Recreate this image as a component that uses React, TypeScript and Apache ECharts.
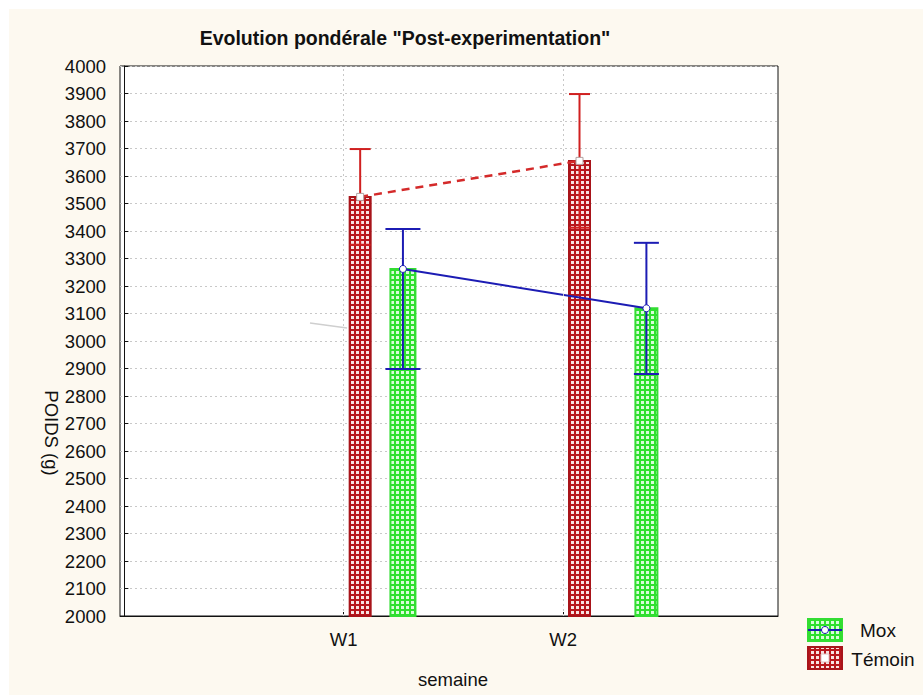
import React, { useEffect, useRef } from "react";
import * as echarts from "echarts";

// ---- data ----
const categories = ["W1", "W2"];
const temoinMean = [3524, 3655];
const temoinHigh = [3698, 3898];
const temoinLow = [3350, 3412];
const moxMean = [3262, 3119];
const moxHigh = [3407, 3357];
const moxLow = [2898, 2880];
const yMin = 2000;
const yMax = 4000;
const yInterval = 100;

// ---- layout (category centre + shift, in axis units) ----
const catPos = [1, 2];
const temoinShift = [0.075, 0.075];
const moxShift = [0.27, 0.38];
const moxBarW = [25, 22];
const temoinBarW = [21, 21];
const moxCapW = [35, 25];
const temoinCapW = [21, 21];

const FONT = "'Liberation Sans', Arial, sans-serif";

function makePattern(bg: string, cell: string) {
  const c = document.createElement("canvas");
  c.width = 5;
  c.height = 5;
  const ctx = c.getContext("2d")!;
  ctx.fillStyle = bg;
  ctx.fillRect(0, 0, 5, 5);
  ctx.fillStyle = cell;
  ctx.fillRect(1, 1, 3, 3);
  return { image: c.toDataURL(), repeat: "repeat", imageWidth: 5, imageHeight: 5 } as any;
}

export default function App() {
  const ref = useRef<HTMLDivElement>(null);
  useEffect(() => {
    if (!ref.current) return;
    const chart = echarts.init(ref.current, undefined, { renderer: "svg" });
    const redPat = makePattern("#b8161c", "#f7e2e2");
    const greenPat = makePattern("#2ee02e", "#d8fcd8");

    const temoinX = catPos.map((c, i) => c + temoinShift[i]);
    const moxX = catPos.map((c, i) => c + moxShift[i]);

    const barSeries = (xs: number[], vals: number[], widths: number[], fill: any, stroke: string) => ({
      type: "custom",
      z: 2,
      data: xs.map((x, i) => [x, vals[i]]),
      renderItem: (params: any, api: any) => {
        const x = api.value(0);
        const v = api.value(1);
        const top = api.coord([x, v]);
        const bot = api.coord([x, yMin]);
        const w = widths[params.dataIndex];
        return {
          type: "rect",
          shape: { x: top[0] - w / 2, y: top[1], width: w, height: bot[1] - top[1] },
          style: { fill, stroke, lineWidth: 2 },
        };
      },
    });

    const errSeries = (xs: number[], lo: number[], hi: number[], caps: number[], color: string) => ({
      type: "custom",
      z: 3,
      data: xs.map((x, i) => [x, lo[i], hi[i]]),
      renderItem: (params: any, api: any) => {
        const x = api.value(0);
        const a = api.coord([x, api.value(1)]);
        const b = api.coord([x, api.value(2)]);
        const hw = caps[params.dataIndex] / 2;
        const st = { stroke: color, lineWidth: 2 };
        return {
          type: "group",
          children: [
            { type: "line", shape: { x1: a[0], y1: a[1], x2: b[0], y2: b[1] }, style: st },
            { type: "line", shape: { x1: a[0] - hw, y1: a[1], x2: a[0] + hw, y2: a[1] }, style: st },
            { type: "line", shape: { x1: b[0] - hw, y1: b[1], x2: b[0] + hw, y2: b[1] }, style: st },
          ],
        };
      },
    });

    const option: any = {
      animation: false,
      grid: {
        left: 120,
        top: 66,
        right: 145,
        bottom: 79,
        show: true,
        backgroundColor: "#ffffff",
        borderColor: "#111",
        borderWidth: 1,
      },
      xAxis: {
        type: "value",
        min: -0.02,
        max: 2.98,
        axisLine: { lineStyle: { color: "#111", width: 1 } },
        axisTick: { customValues: catPos, inside: true, length: 4, lineStyle: { color: "#111" } },
        axisLabel: {
          customValues: catPos,
          formatter: (v: number) => {
            const i = catPos.indexOf(Math.round(v));
            return i >= 0 ? categories[i] : "";
          },
          fontFamily: FONT,
          fontSize: 18.5,
          color: "#111",
          margin: 14,
        },
        splitLine: { show: false },
      },
      yAxis: {
        type: "value",
        min: yMin,
        max: yMax,
        interval: yInterval,
        axisLine: { show: true, lineStyle: { color: "#111", width: 1 } },
        axisTick: { show: true, inside: true, length: 4, lineStyle: { color: "#111" } },
        axisLabel: {
          fontFamily: FONT,
          fontSize: 18.5,
          color: "#111",
          margin: 14,
          formatter: (v: number) => String(v),
        },
        splitLine: { show: true, lineStyle: { color: "#c8c8c8", type: [2, 3], width: 1 } },
      },
      series: [
        {
          type: "line",
          data: [],
          markLine: {
            silent: true,
            symbol: "none",
            label: { show: false },
            lineStyle: { color: "#c8c8c8", type: [2, 3], width: 1 },
            data: catPos.map((c) => ({ xAxis: c })),
          },
        },
        barSeries(temoinX, temoinMean, temoinBarW, redPat, "#a8141a"),
        barSeries(moxX, moxMean, moxBarW, greenPat, "#33dd33"),
        errSeries(temoinX, temoinLow, temoinHigh, temoinCapW, "#d02020"),
        errSeries(moxX, moxLow, moxHigh, moxCapW, "#1c1cb4"),
        {
          type: "line",
          z: 4,
          data: temoinX.map((x, i) => [x, temoinMean[i]]),
          lineStyle: { color: "#d42a2a", width: 2.5, type: [8, 6] },
          symbol: "rect",
          symbolSize: 7,
          itemStyle: { color: "#ffffff", borderColor: "#b0a0a0", borderWidth: 1 },
        },
        {
          type: "line",
          z: 4,
          data: moxX.map((x, i) => [x, moxMean[i]]),
          lineStyle: { color: "#1c1cb4", width: 2 },
          symbol: "circle",
          symbolSize: 7,
          itemStyle: { color: "#ffffff", borderColor: "#1c1cb4", borderWidth: 1 },
        },
      ],
      graphic: [
        {
          type: "text",
          x: 405,
          y: 38,
          style: {
            text: 'Evolution pondérale "Post-experimentation"',
            font: `bold 19.5px ${FONT}`,
            fill: "#111",
            textAlign: "center",
            textVerticalAlign: "middle",
          },
        },
        {
          type: "text",
          x: 453,
          y: 679,
          style: {
            text: "semaine",
            font: `18.5px ${FONT}`,
            fill: "#111",
            textAlign: "center",
            textVerticalAlign: "middle",
          },
        },
        {
          type: "text",
          x: 51,
          y: 433,
          rotation: -Math.PI / 2,
          style: {
            text: "POIDS (g)",
            font: `18.5px ${FONT}`,
            fill: "#111",
            textAlign: "center",
            textVerticalAlign: "middle",
          },
        },
        {
          type: "line",
          shape: { x1: 310, y1: 323, x2: 347, y2: 328 },
          style: { stroke: "#cfcfcf", lineWidth: 1.5 },
        },
        // legend
        {
          type: "rect",
          shape: { x: 808, y: 619, width: 34, height: 22 },
          style: { fill: greenPat, stroke: "#33dd33", lineWidth: 2 },
        },
        {
          type: "line",
          shape: { x1: 808, y1: 630, x2: 842, y2: 630 },
          style: { stroke: "#1c1cb4", lineWidth: 2 },
        },
        {
          type: "circle",
          shape: { cx: 825, cy: 630, r: 3.5 },
          style: { fill: "#fff", stroke: "#1c1cb4", lineWidth: 1 },
        },
        {
          type: "rect",
          shape: { x: 808, y: 647, width: 34, height: 22 },
          style: { fill: redPat, stroke: "#a8141a", lineWidth: 2 },
        },
        {
          type: "rect",
          shape: { x: 821, y: 654, width: 8, height: 8 },
          style: { fill: "#fff", stroke: "#e0c0c0", lineWidth: 1 },
        },
        {
          type: "text",
          x: 878,
          y: 630,
          style: { text: "Mox", font: `19px ${FONT}`, fill: "#111", textAlign: "center", textVerticalAlign: "middle" },
        },
        {
          type: "text",
          x: 883,
          y: 659,
          style: { text: "Témoin", font: `19px ${FONT}`, fill: "#111", textAlign: "center", textVerticalAlign: "middle" },
        },
      ],
    };
    chart.setOption(option);
    return () => chart.dispose();
  }, []);

  return (
    <div style={{ position: "fixed", left: 0, top: 0, width: 923, height: 695, background: "#ffffff" }}>
      <div style={{ position: "absolute", left: 9, top: 9, right: 0, bottom: 0, background: "#fdf9f0" }} />
      <div ref={ref} style={{ position: "absolute", left: 0, top: 0, width: 923, height: 695 }} />
    </div>
  );
}
